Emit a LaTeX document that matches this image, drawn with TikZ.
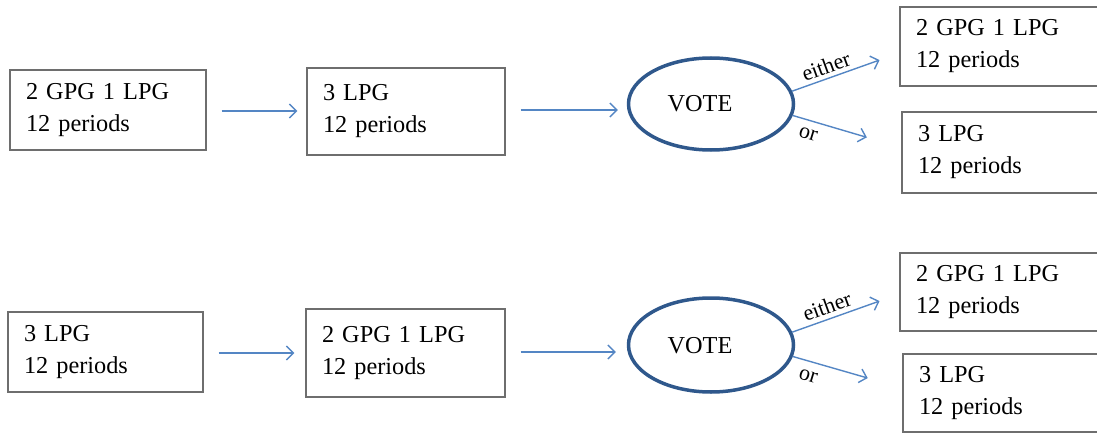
\documentclass[tikz,border=0pt]{standalone}
\usepackage{fontspec}
\setmainfont{Liberation Serif}
\usetikzlibrary{arrows.meta,shapes.geometric,calc}
\definecolor{arrblue}{RGB}{84,134,196}
\definecolor{voteblue}{RGB}{47,88,140}
\definecolor{boxgray}{RGB}{110,110,110}
\tikzset{
  stagebox/.style={draw=boxgray, line width=1.3pt, rectangle, inner xsep=16pt, inner ysep=0pt,
    align=left, font=\fontsize{24.3}{32}\selectfont, text=black},
  votebox/.style={draw=voteblue, line width=3.5pt, ellipse, inner sep=0pt, minimum width=165pt},
  votetext/.style={font=\fontsize{24.3}{29}\selectfont, text=black, inner sep=0pt},
  flow/.style={draw=arrblue, line width=1.4pt, -{Straight Barb[length=7pt,width=14pt,line width=1.4pt]}},
  choice/.style={font=\fontsize{22}{26}\selectfont, text=black, inner sep=0pt},
}
\begin{document}
\begin{tikzpicture}[x=1pt,y=-1pt]
\useasboundingbox (0,0) rectangle (1097,433);
\clip (0,0) rectangle (1097,433);
% ---------- row 1 ----------
\node[stagebox, text width=164pt, minimum height=80pt] (a) at (108,110) {2 GPG 1 LPG\\12 periods};
\node[stagebox, text width=166pt, minimum height=87pt] (b) at (406,111.5) {3 LPG\\12 periods};
\node[votebox, minimum height=92pt] (v1) at (711,104) {};
\node[votetext] (v1t) at (700,104) {VOTE};
\node[stagebox, text width=178pt, minimum height=79pt] (c) at (1005,46.5) {2 GPG 1 LPG\\12 periods};
\node[stagebox, text width=176pt, minimum height=81pt] (d) at (1006,152.5) {3 LPG\\12 periods};
\draw[flow, shorten <=15pt, shorten >=9pt] ($(a.east)+(0,1)$) -- ($(a.east -| b.west)+(0,1)$);
\draw[flow, shorten <=15pt, shorten >=9pt] ($(b.east)+(0,-1.5)$) -- ($(b.east -| v1.west)+(0,-1.5)$);
\draw[flow, shorten >=21pt] (v1.9) -- ($(c.west)+(0,6.5)$);
\draw[flow, shorten >=36pt] (v1.352) -- ($(d.west)+(0,-5)$);
\node[choice, rotate=20] (e1) at (826,66) {either};
\node[choice, rotate=-17] (o1) at (808,134) {or};
% ---------- row 2 ----------
\node[stagebox, text width=163pt, minimum height=80pt] (e) at (105.5,352) {3 LPG\\12 periods};
\node[stagebox, text width=167pt, minimum height=88pt] (f) at (405.5,353) {2 GPG 1 LPG\\12 periods};
\node[votebox, minimum height=94pt] (v2) at (711,345) {};
\node[votetext] (v2t) at (700,346) {VOTE};
\node[stagebox, text width=178pt, minimum height=78pt] (g) at (1005,292) {2 GPG 1 LPG\\12 periods};
\node[stagebox, text width=175pt, minimum height=78pt] (h) at (1006.5,393) {3 LPG\\12 periods};
\draw[flow, shorten <=15pt, shorten >=11pt] ($(e.east)+(0,1)$) -- ($(e.east -| f.west)+(0,1)$);
\draw[flow, shorten <=15pt, shorten >=11pt] ($(f.east)+(0,-1)$) -- ($(f.east -| v2.west)+(0,-1)$);
\draw[flow, shorten >=21pt] (v2.9) -- ($(g.west)+(0,2)$);
\draw[flow, shorten >=36pt] (v2.352) -- ($(h.west)+(0,-5)$);
\node[choice, rotate=20] (e2) at (827,306) {either};
\node[choice, rotate=-17] (o2) at (808,376) {or};
\end{tikzpicture}
\end{document}
